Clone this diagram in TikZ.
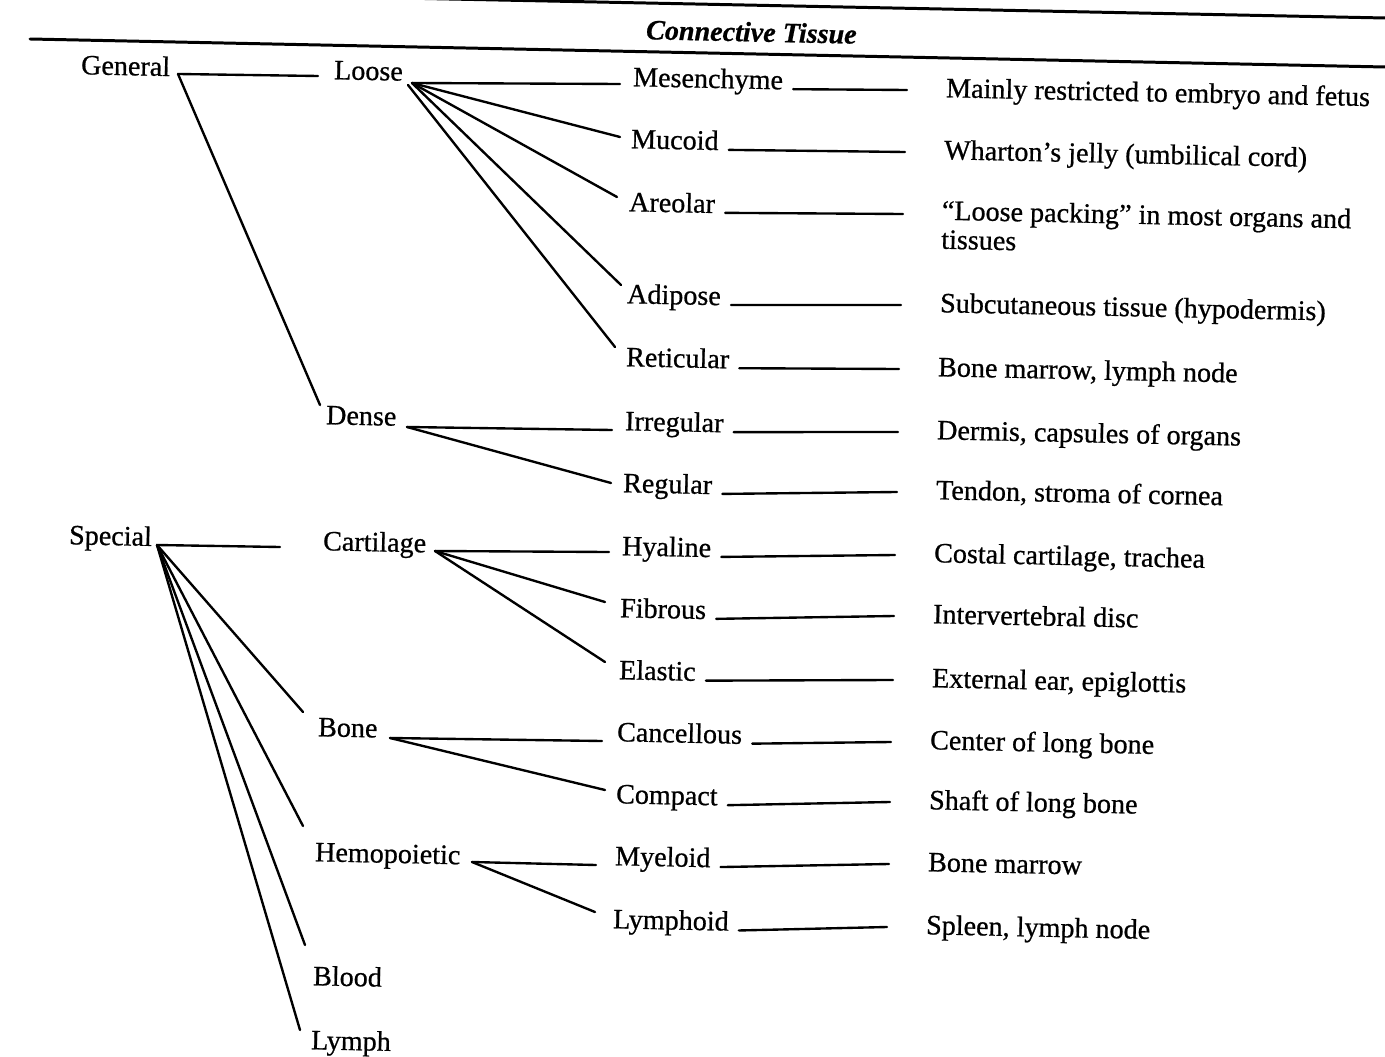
\documentclass[tikz,border=0pt]{standalone}
\usepackage{fontspec}
\setmainfont{Liberation Serif}[FakeBold=0.7]
\begin{document}
\begin{tikzpicture}[x=0.02cm,y=-0.02cm,line width=1.35pt,line cap=round,
  lbl/.style={anchor=west,inner sep=0pt,rotate=-1.2,text height=10.5pt,text depth=0pt,
    font=\fontsize{16}{19}\selectfont},
  blank/.style={line width=1.35pt}]
\useasboundingbox (0,0) rectangle (1385,1057);
% header
\draw[line width=1.7pt] (350,-3) -- (1385,18);
\draw[line width=1.7pt] (30,39) -- (1385,67);
\node[lbl,font=\fontsize{16}{19}\selectfont\bfseries\itshape] (title) at (645,30) {Connective Tissue};
% column 1
\node[lbl] (gen) at (80,65) {General};
\node[lbl] (spe) at (68,535) {Special};
% column 2
\node[lbl] (loo) at (333,70) {Loose};
\node[lbl] (den) at (325,415) {Dense};
\node[lbl] (car) at (322,541) {Cartilage};
\node[lbl] (bon) at (317,727) {Bone};
\node[lbl] (hem) at (314,852) {Hemopoietic};
\node[lbl] (blo) at (312,976) {Blood};
\node[lbl] (lym) at (310,1040) {Lymph};
% column 3
\node[lbl] (mes) at (632,77) {Mesenchyme};
\node[lbl] (muc) at (630,139) {Mucoid};
\node[lbl] (are) at (628,202) {Areolar};
\node[lbl] (adi) at (626,294) {Adipose};
\node[lbl] (ret) at (625,357) {Reticular};
\node[lbl] (irr) at (624,421) {Irregular};
\node[lbl] (reg) at (622,483) {Regular};
\node[lbl] (hya) at (621,546) {Hyaline};
\node[lbl] (fib) at (619,608) {Fibrous};
\node[lbl] (ela) at (618,670) {Elastic};
\node[lbl] (can) at (616,732) {Cancellous};
\node[lbl] (com) at (615,794) {Compact};
\node[lbl] (mye) at (614,856) {Myeloid};
\node[lbl] (lyd) at (612,919) {Lymphoid};
% column 4
\node[lbl] (d1) at (945,88) {Mainly restricted to embryo and fetus};
\node[lbl] (d2) at (943,150) {Wharton’s jelly (umbilical cord)};
\node[anchor=north west,inner sep=0pt,rotate=-1.2,align=left,
  font=\fontsize{16}{16.5}\selectfont] (d3) at (941,199) {“Loose packing” in most organs and\\tissues};
\node[lbl] (d4) at (939,303) {Subcutaneous tissue (hypodermis)};
\node[lbl] (d5) at (937,367) {Bone marrow, lymph node};
\node[lbl] (d6) at (936,430) {Dermis, capsules of organs};
\node[lbl] (d7) at (935,490) {Tendon, stroma of cornea};
\node[lbl] (d8) at (933,553) {Costal cartilage, trachea};
\node[lbl] (d9) at (932,614) {Intervertebral disc};
\node[lbl] (d10) at (931,678) {External ear, epiglottis};
\node[lbl] (d11) at (929,740) {Center of long bone};
\node[lbl] (d12) at (928,800) {Shaft of long bone};
\node[lbl] (d13) at (927,862) {Bone marrow};
\node[lbl] (d14) at (925,925) {Spleen, lymph node};
% hubs
\coordinate (genhub) at (178,74);
\coordinate (spehub) at (157,545);
\coordinate (loohub) at (412,83);
\coordinate (denhub) at (407,427);
\coordinate (carhub) at (435,551);
\coordinate (bonhub) at (390,738);
\coordinate (hemhub) at (472,862);
% general
\draw (genhub) -- ([shift={(-15,6)}]loo.west);
\draw (genhub) -- ([shift={(-5,-10)}]den.west);
% loose
\draw (loohub) -- ([shift={(-12,7)}]mes.west);
\draw (loohub) -- ([shift={(-10,-2)}]muc.west);
\draw (loohub) -- ([shift={(-11,-5)}]are.west);
\draw (loohub) -- ([shift={(-5,-9)}]adi.west);
\draw ([shift={(-4,2)}]loohub) -- ([shift={(-10,-10)}]ret.west);
% dense
\draw (denhub) -- ([shift={(-12,9)}]irr.west);
\draw (denhub) -- ([shift={(-11,0)}]reg.west);
% special
\draw (spehub) -- ([shift={(-42,6)}]car.west);
\draw (spehub) -- ([shift={(-14,-15)}]bon.west);
\draw (spehub) -- ([shift={(-11,-26)}]hem.west);
\draw (spehub) -- ([shift={(-7,-31)}]blo.west);
\draw (spehub) -- ([shift={(-10,-10)}]lym.west);
% cartilage
\draw (carhub) -- ([shift={(-12,6)}]hya.west);
\draw (carhub) -- ([shift={(-14,-6)}]fib.west);
\draw (carhub) -- ([shift={(-13,-8)}]ela.west);
% bone
\draw (bonhub) -- ([shift={(-14,9)}]can.west);
\draw (bonhub) -- ([shift={(-10,-4)}]com.west);
% hemopoietic
\draw (hemhub) -- ([shift={(-18,9)}]mye.west);
\draw (hemhub) -- ([shift={(-17,-7)}]lyd.west);
% blanks
\foreach \a/\b in {mes/d1,muc/d2,adi/d4,ret/d5,irr/d6,reg/d7,hya/d8,fib/d9,ela/d10,can/d11,com/d12,mye/d13,lyd/d14}
  \draw[blank] ([shift={(9,9)}]\a.east) -- ([shift={(-38,2)}]\b.west);
\draw[blank] ([shift={(9,9)}]are.east) -- ([shift={(-38,15)}]d3.north west);
\end{tikzpicture}
\end{document}
